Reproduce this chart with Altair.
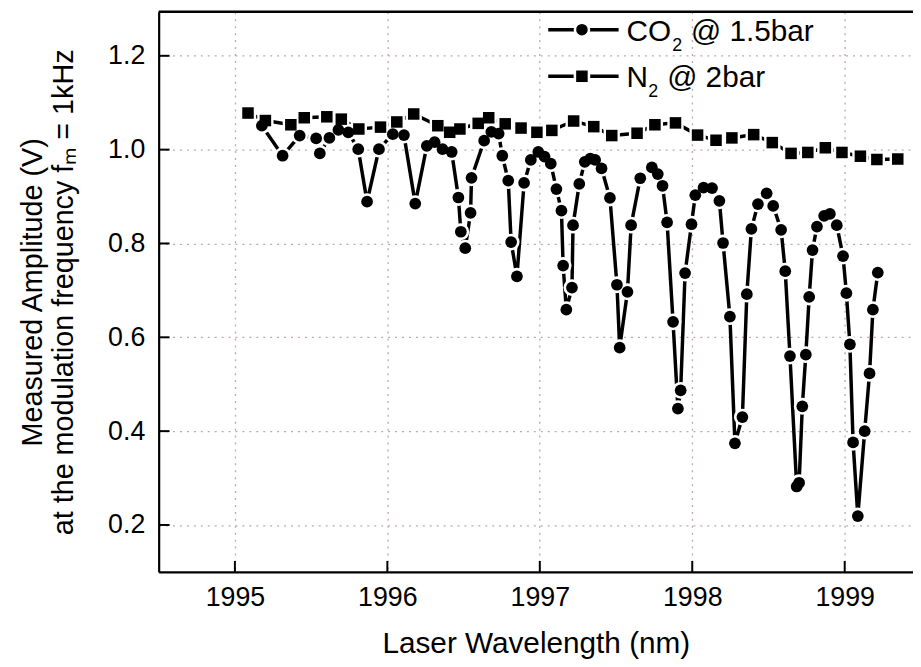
import altair as alt
import pandas as pd

# ---------------- data ----------------
co2_x = [1995.177, 1995.313, 1995.425, 1995.533, 1995.557, 1995.620, 1995.679, 1995.744,
         1995.809, 1995.867, 1995.945, 1996.036, 1996.109, 1996.183, 1996.259, 1996.310,
         1996.362, 1996.422, 1996.466, 1996.482, 1996.511, 1996.546, 1996.552, 1996.635,
         1996.682, 1996.730, 1996.754, 1996.793, 1996.812, 1996.850, 1996.897, 1996.941,
         1996.990, 1997.031, 1997.072, 1997.109, 1997.142, 1997.153, 1997.174, 1997.211,
         1997.218, 1997.259, 1997.295, 1997.331, 1997.363, 1997.405, 1997.460, 1997.506,
         1997.524, 1997.575, 1997.599, 1997.659, 1997.735, 1997.774, 1997.805, 1997.835,
         1997.874, 1997.906, 1997.924, 1997.953, 1997.995, 1998.020, 1998.074, 1998.130,
         1998.178, 1998.202, 1998.247, 1998.280, 1998.329, 1998.358, 1998.388, 1998.431,
         1998.488, 1998.531, 1998.583, 1998.610, 1998.641, 1998.685, 1998.701, 1998.722,
         1998.745, 1998.767, 1998.789, 1998.818, 1998.865, 1998.903, 1998.948, 1998.989,
         1999.011, 1999.034, 1999.055, 1999.086, 1999.131, 1999.163, 1999.185, 1999.217]
co2_y = [1.051, 0.987, 1.030, 1.024, 0.992, 1.025, 1.042, 1.037,
         1.001, 0.889, 1.001, 1.033, 1.031, 0.885, 1.008, 1.016,
         1.001, 0.995, 0.898, 0.825, 0.790, 0.865, 0.940, 1.019,
         1.038, 1.034, 0.987, 0.934, 0.803, 0.730, 0.929, 0.978,
         0.995, 0.985, 0.970, 0.916, 0.870, 0.753, 0.659, 0.706,
         0.839, 0.927, 0.974, 0.981, 0.978, 0.960, 0.897, 0.712,
         0.578, 0.697, 0.839, 0.939, 0.962, 0.948, 0.923, 0.845,
         0.633, 0.448, 0.487, 0.737, 0.841, 0.903, 0.919, 0.918,
         0.891, 0.801, 0.644, 0.374, 0.430, 0.692, 0.831, 0.884,
         0.907, 0.880, 0.829, 0.741, 0.560, 0.282, 0.290, 0.453,
         0.563, 0.686, 0.786, 0.836, 0.859, 0.863, 0.839, 0.773,
         0.694, 0.585, 0.376, 0.219, 0.400, 0.523, 0.659, 0.738]

n2_x = [1995.086, 1995.200, 1995.367, 1995.455, 1995.603, 1995.698, 1995.813, 1995.955,
        1996.062, 1996.173, 1996.331, 1996.409, 1996.476, 1996.596, 1996.665, 1996.773,
        1996.877, 1996.981, 1997.079, 1997.222, 1997.354, 1997.472, 1997.638, 1997.755,
        1997.890, 1998.035, 1998.156, 1998.260, 1998.403, 1998.525, 1998.648, 1998.758,
        1998.873, 1998.982, 1999.103, 1999.211, 1999.348]
n2_y = [1.078, 1.062, 1.053, 1.068, 1.070, 1.065, 1.044, 1.048,
        1.059, 1.076, 1.051, 1.037, 1.044, 1.056, 1.068, 1.055,
        1.046, 1.037, 1.041, 1.061, 1.049, 1.030, 1.035, 1.053,
        1.057, 1.031, 1.020, 1.025, 1.032, 1.015, 0.992, 0.994,
        1.004, 0.994, 0.986, 0.979, 0.980]

x_ticks = [1995, 1996, 1997, 1998, 1999]
y_ticks = [0.2, 0.4, 0.6, 0.8, 1.0, 1.2]
x_title = "Laser Wavelength (nm)"
y_title = ["Measured Amplitude (V)", "at the modulation frequency fₘ = 1kHz"]
legend_main = ["CO", "N"]
legend_sub = ["2", "2"]
legend_rest = ["@ 1.5bar", "@ 2bar"]
legend_shape = ["circle", "square"]

# ---------------- styling ----------------
FONT = "Liberation Sans"
W, H = 761, 565
GRID = "#bea6b0"

xs = alt.Scale(domain=[1994.5, 1999.448], nice=False, zero=False)
ys = alt.Scale(domain=[0.1, 1.2937], nice=False, zero=False)

x_axis = alt.Axis(values=x_ticks, format="d", title=x_title, grid=True, ticks=False,
                  gridColor=GRID, gridDash=[2, 5], gridWidth=1.3,
                  domainColor="black", domainWidth=2.2,
                  labelFont=FONT, labelFontSize=27, labelColor="black", labelPadding=13,
                  titleFont=FONT, titleFontSize=30, titleFontWeight="normal",
                  titleColor="black", titlePadding=18)
y_axis = alt.Axis(values=y_ticks, format=".1f", title=y_title, grid=True, ticks=False,
                  gridColor=GRID, gridDash=[2, 5], gridWidth=1.3,
                  domainColor="black", domainWidth=2.2,
                  labelFont=FONT, labelFontSize=27, labelColor="black", labelPadding=14,
                  titleFont=FONT, titleFontSize=29, titleFontWeight="normal",
                  titleColor="black", titlePadding=29, titleLineHeight=32)

X = alt.X("x:Q", scale=xs, axis=x_axis)
Y = alt.Y("y:Q", scale=ys, axis=y_axis)

co2 = pd.DataFrame({"x": co2_x, "y": co2_y, "i": list(range(len(co2_x)))})
n2 = pd.DataFrame({"x": n2_x, "y": n2_y, "i": list(range(len(n2_x)))})

layers = []
# series lines
for df in (co2, n2):
    layers.append(alt.Chart(df).mark_line(color="black", strokeWidth=3.5)
                  .encode(x=X, y=Y, order="i:Q"))
# white halos (line gaps around markers)
layers.append(alt.Chart(co2).mark_point(shape="circle", filled=True, color="white",
                                        opacity=1, size=290).encode(x=X, y=Y))
layers.append(alt.Chart(n2).mark_point(shape="square", filled=True, color="white",
                                       opacity=1, size=270).encode(x=X, y=Y))
# markers
layers.append(alt.Chart(co2).mark_point(shape="circle", filled=True, color="black",
                                        opacity=1, size=140).encode(x=X, y=Y))
layers.append(alt.Chart(n2).mark_point(shape="square", filled=True, color="black",
                                       opacity=1, size=135).encode(x=X, y=Y))

# inward ticks
tx = pd.DataFrame({"x": x_ticks})
ty = pd.DataFrame({"y": y_ticks})
layers.append(alt.Chart(tx).mark_rule(color="black", strokeWidth=2)
              .encode(x=X, y=alt.value(H), y2=alt.value(H - 11)))
layers.append(alt.Chart(ty).mark_rule(color="black", strokeWidth=2)
              .encode(y=Y, x=alt.value(0), x2=alt.value(11)))

one = pd.DataFrame({"k": [0]})
# top frame
layers.append(alt.Chart(one).mark_rule(color="black", strokeWidth=2.5)
              .encode(x=alt.value(0), x2=alt.value(W), y=alt.value(0)))

# legend
rows_y = [18, 65]
main_w = [46, 22]
for r in range(2):
    ly = rows_y[r]
    layers.append(alt.Chart(one).mark_rule(color="black", strokeWidth=3.5)
                  .encode(x=alt.value(393), x2=alt.value(464), y=alt.value(ly)))
    layers.append(alt.Chart(one).mark_point(shape=legend_shape[r], filled=True, color="white",
                                            opacity=1, size=280)
                  .encode(x=alt.value(427), y=alt.value(ly)))
    layers.append(alt.Chart(one).mark_point(shape=legend_shape[r], filled=True, color="black",
                                            opacity=1, size=135)
                  .encode(x=alt.value(427), y=alt.value(ly)))
    layers.append(alt.Chart(one).mark_text(text=legend_main[r], font=FONT, fontSize=30,
                                           align="left", baseline="alphabetic", color="black")
                  .encode(x=alt.value(472), y=alt.value(ly + 11)))
    layers.append(alt.Chart(one).mark_text(text=legend_sub[r], font=FONT, fontSize=18,
                                           align="left", baseline="alphabetic", color="black")
                  .encode(x=alt.value(472 + main_w[r]), y=alt.value(ly + 21)))
    layers.append(alt.Chart(one).mark_text(text=legend_rest[r], font=FONT, fontSize=30,
                                           align="left", baseline="alphabetic", color="black")
                  .encode(x=alt.value(472 + main_w[r] + 19), y=alt.value(ly + 11)))

chart = (alt.layer(*layers)
         .properties(width=W, height=H,
                     autosize=alt.AutoSizeParams(type="none"),
                     padding={"left": 152, "top": 1, "right": 0, "bottom": 85},
                     background="white")
         .configure_view(stroke=None))

chart.save("out.html", embed_options={"renderer": "svg", "actions": False})
